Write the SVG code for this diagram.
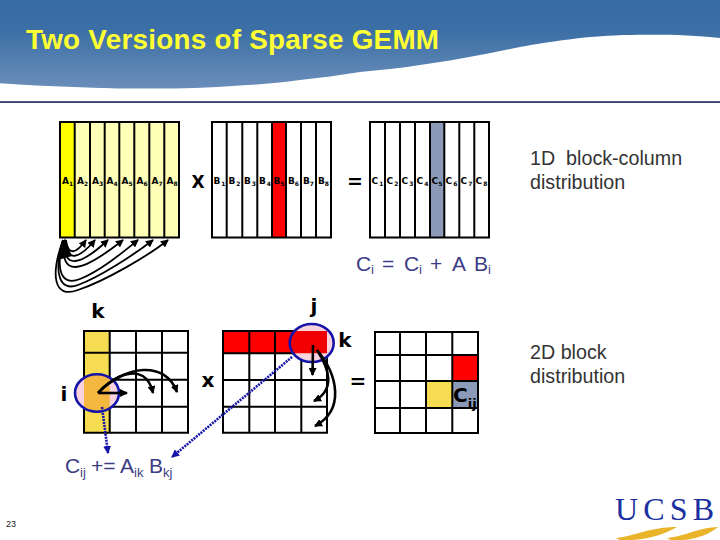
<svg xmlns="http://www.w3.org/2000/svg" width="720" height="540" viewBox="0 0 720 540">
<style>
.g{fill:none;stroke:#000;stroke-width:2}
.c{font-family:"DejaVu Sans",sans-serif;font-weight:bold;font-size:9px;fill:#000;text-anchor:middle}
.s{font-size:6px}
.b{font-family:"DejaVu Sans",sans-serif;font-weight:bold;fill:#000;text-anchor:middle}
.t{font-family:"Liberation Sans",sans-serif;font-size:21px;fill:#3c3c84}
.u{font-size:13px}
.d{font-family:"Liberation Sans",sans-serif;font-size:19.700px;fill:#333}
.a{fill:none;stroke:#000;stroke-width:1.800;marker-end:url(#ah)}
.h{fill:none;stroke:#000;stroke-width:2.600;marker-end:url(#ah)}
.e{fill:none;stroke:#1414a8;stroke-width:2.600}
.q{fill:none;stroke:#1414a8;stroke-width:2.600;stroke-dasharray:2 1;marker-end:url(#bh)}
</style>
<defs>
<linearGradient id="sky" x1="0" y1="0" x2="0" y2="1"><stop offset="0" stop-color="#376ba3"/><stop offset=".35" stop-color="#3c6fa5"/><stop offset="1" stop-color="#6b8eba"/></linearGradient>
<marker id="ah" markerUnits="userSpaceOnUse" markerWidth="9" markerHeight="8" refX="7" refY="4" orient="auto"><path d="M0 0L8 4L0 8z" fill="#000"/></marker>
<marker id="bh" markerUnits="userSpaceOnUse" markerWidth="9" markerHeight="8" refX="7" refY="4" orient="auto"><path d="M0 0L8 4L0 8z" fill="#1414a8"/></marker>
<clipPath id="c1"><rect x="84" y="331" width="25.700" height="102"/></clipPath>
<clipPath id="c2"><rect x="223" y="331" width="104" height="22.300"/></clipPath>
</defs>
<rect width="720" height="540" fill="#fff"/>
<g id="banner">
<path d="M0 0H720V38C695 35 670 34.500 640 34.700C615 35 600 36 580 38C555 41 535 44 520 47C505 50 495 52 480 55C460 59 440 62 420 65C400 68.500 380 70 360 72C340 75 320 78 300 80C280 83 260 84.500 240 85.500C210 88 180 88.500 150 88.500C130 88.500 115 88.500 100 88C65 87 30 85.500 0 83.300Z" fill="url(#sky)"/>
<rect x="0" y="101.300" width="720" height="1.500" fill="#101050"/>
<text x="26" y="49" font-family="Liberation Sans,sans-serif" font-weight="bold" font-size="27.800" textLength="413" fill="#ffff33">Two Versions of Sparse GEMM</text>
</g>
<g id="matrix-a">
<rect x="60" y="122" width="119" height="115.500" fill="#ffffb8"/><rect x="60" y="122" width="14.700" height="115.500" fill="#ffff00"/>
<path class="g" d="M60 122H179V237.500H60ZM74.700 122V237.500M90 122V237.500M104.700 122V237.500M119.300 122V237.500M134.300 122V237.500M149.300 122V237.500M164.300 122V237.500"/>
<g class="c"><text x="67.500" y="184">A<tspan class="s" dy="2">1</tspan></text><text x="82.500" y="184">A<tspan class="s" dy="2">2</tspan></text><text x="97.500" y="184">A<tspan class="s" dy="2">3</tspan></text><text x="112" y="184">A<tspan class="s" dy="2">4</tspan></text><text x="127" y="184">A<tspan class="s" dy="2">5</tspan></text><text x="142" y="184">A<tspan class="s" dy="2">6</tspan></text><text x="157" y="184">A<tspan class="s" dy="2">7</tspan></text><text x="172" y="184">A<tspan class="s" dy="2">8</tspan></text></g>
</g>
<g id="times-1"><text class="b" x="198" y="188" font-size="17">X</text></g>
<g id="matrix-b">
<rect x="272" y="122" width="14" height="115.500" fill="#ff0000"/>
<path class="g" d="M212 122H331V237.500H212ZM226.700 122V237.500M242.300 122V237.500M257.300 122V237.500M272 122V237.500M286 122V237.500M301 122V237.500M316 122V237.500"/>
<g class="c"><text x="219.500" y="184">B<tspan class="s" dy="2" dx="1">1</tspan></text><text x="234.500" y="184">B<tspan class="s" dy="2" dx="1">2</tspan></text><text x="250" y="184">B<tspan class="s" dy="2" dx="1">3</tspan></text><text x="265" y="184">B<tspan class="s" dy="2" dx="1">4</tspan></text><text x="279" y="184">B<tspan class="s" dy="2">5</tspan></text><text x="293.500" y="184">B<tspan class="s" dy="2">6</tspan></text><text x="308.500" y="184">B<tspan class="s" dy="2">7</tspan></text><text x="323.500" y="184">B<tspan class="s" dy="2">8</tspan></text></g>
</g>
<g id="equals-1"><text class="b" x="355" y="188" font-size="19">=</text></g>
<g id="matrix-c">
<rect x="430" y="122" width="14.300" height="115.500" fill="#8a9ab8"/>
<path class="g" d="M370 122H489V237.500H370ZM385 122V237.500M400 122V237.500M415 122V237.500M430 122V237.500M444.300 122V237.500M459.300 122V237.500M474.300 122V237.500"/>
<g class="c"><text x="377.500" y="184">C<tspan class="s" dy="2" dx="1">1</tspan></text><text x="392.500" y="184">C<tspan class="s" dy="2" dx="1">2</tspan></text><text x="407.500" y="184">C<tspan class="s" dy="2" dx="1">3</tspan></text><text x="422.500" y="184">C<tspan class="s" dy="2" dx="1">4</tspan></text><text x="437" y="184">C<tspan class="s" dy="2">5</tspan></text><text x="451.500" y="184">C<tspan class="s" dy="2" dx="1">6</tspan></text><text x="466.500" y="184">C<tspan class="s" dy="2" dx="1">7</tspan></text><text x="481.500" y="184">C<tspan class="s" dy="2" dx="1">8</tspan></text></g>
</g>
<g id="label-1d"><text class="d" x="530" y="165" xml:space="preserve">1D  block-column</text><text class="d" x="530" y="189">distribution</text></g>
<g id="formula-ci"><g class="t"><text x="356" y="271">C</text><text x="371" y="274" class="u">i</text><text x="382" y="271">=</text><text x="404" y="271">C</text><text x="419" y="274" class="u">i</text><text x="430" y="271">+</text><text x="452" y="271">A</text><text x="474" y="271">B</text><text x="488" y="274" class="u">i</text></g></g>
<g id="grid-a2">
<rect x="84" y="331" width="25.700" height="101.700" fill="#f5dc50"/>
<path class="g" d="M84 331H188V432.700H84ZM109.700 331V432.700M136 331V432.700M162 331V432.700M84 352.700H188M84 379.700H188M84 406.700H188"/>
</g>
<g id="grid-b2">
<rect x="223" y="331" width="104" height="22.300" fill="#ff0000"/>
<path class="g" d="M223 331H327V432.700H223ZM249.300 331V432.700M275 331V432.700M301.300 331V432.700M223 353.300H327M223 380H327M223 406.700H327"/>
</g>
<g id="grid-c2">
<rect x="452.300" y="355" width="25.700" height="26" fill="#ff0000"/><rect x="426" y="381" width="26.300" height="27" fill="#f5dc50"/><rect x="452.300" y="381" width="25.700" height="27" fill="#8a9ab8"/>
<path class="g" d="M375 332H478V433H375ZM400 332V433M426 332V433M452.300 332V433M375 355H478M375 381H478M375 408H478"/>
<text class="b" x="453" y="402" font-size="20" style="text-anchor:start">C<tspan font-size="13" dy="6">ij</tspan></text>
</g>
<g id="labels-2d">
<text class="b" x="98" y="318" font-size="20">k</text><text class="b" x="64" y="401" font-size="20">i</text><text class="b" x="208" y="387" font-size="20">x</text><text class="b" x="314" y="313" font-size="20">j</text><text class="b" x="345" y="347" font-size="20">k</text><text class="b" x="358" y="388" font-size="20">=</text>
<g class="t"><text x="65" y="473">C</text><text x="80" y="477" class="u">ij</text><text x="91" y="473">+=</text><text x="120" y="473">A</text><text x="134" y="477" class="u">ik</text><text x="149" y="473">B</text><text x="163" y="477" class="u">kj</text></g>
<text class="d" x="530" y="359" xml:space="preserve">2D block</text><text class="d" x="530" y="383">distribution</text>
</g>
<g id="connectors">
<path class="a" d="M66 240C68 256 76 254 86 240"/><path class="a" d="M65 240C66 264 80 258 95 240"/><path class="a" d="M64 240C63 270 80 266 108 240"/><path class="a" d="M64 240C60 278 80 274 123 240"/>
<path class="a" d="M63 240C55 272 62 286 80 279C100 271 122 253 138 240"/><path class="a" d="M63 240C53 274 60 292 78 285C100 277 135 254 153 240"/><path class="a" d="M63 240C50 276 54 299 78 290C105 281 148 256 168 240"/>
<path d="M65 238L58 260L72 256Z" fill="#000"/>
<ellipse cx="97" cy="393" rx="22" ry="18.700" fill="#f8d2dc"/>
<ellipse cx="97" cy="393" rx="22" ry="18.700" fill="#f4b840" clip-path="url(#c1)"/>
<ellipse class="e" cx="97" cy="393" rx="22" ry="18.700"/>
<path class="h" d="M98 393H127"/><path class="h" d="M98 393C110 378 145 358 153 393"/><path class="h" d="M98 393C125 365 165 360 177 392"/>
<ellipse cx="311.700" cy="343" rx="22" ry="19" fill="#f8d2dc"/>
<ellipse cx="311.700" cy="343" rx="22" ry="19" fill="#f00000" clip-path="url(#c2)"/>
<ellipse class="e" cx="311.700" cy="343" rx="22" ry="19"/>
<path class="h" d="M313 345L312.500 375"/><path class="h" d="M317 350C330 370 335 390 314 401"/><path class="h" d="M317 350C338 375 345 410 315 426"/>
<path class="q" d="M102 407L108 453"/><path class="q" d="M292 357L172 457"/>
</g>
<g id="footer">
<text x="6" y="527" font-family="Liberation Sans,sans-serif" font-size="9" fill="#222">23</text>
<text x="615" y="520" font-family="Liberation Serif,serif" font-size="32" fill="#1a2fa0" textLength="99">UCSB</text>
<path d="M616 538C635 536 650 527 677 527C665 534 650 539 632 540L620 540ZM667 538C686 536 700 527 718 527C710 534 697 539 683 540L671 540Z" fill="#eab42a"/>
</g>
</svg>
